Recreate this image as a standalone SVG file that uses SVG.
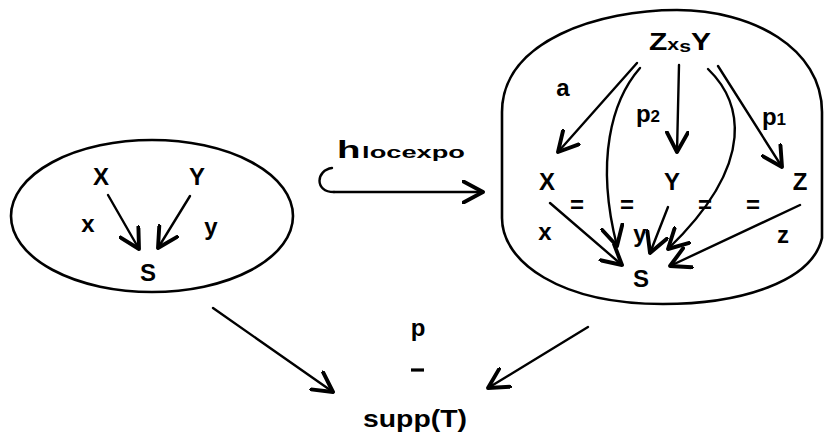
<svg xmlns="http://www.w3.org/2000/svg" width="824" height="437" viewBox="0 0 824 437">
<defs>
<marker id="ah" markerUnits="userSpaceOnUse" markerWidth="24" markerHeight="24" refX="14" refY="8" orient="auto" viewBox="0 0 16 16">
<path d="M1,1 L14,8 L1,15" fill="none" stroke="#000" stroke-width="2.6" stroke-linecap="round" stroke-linejoin="round"/>
</marker>
</defs>
<style>
.t{font-family:"Liberation Sans",Arial,sans-serif;font-weight:bold;font-size:24px;fill:#000;text-anchor:middle}
.s{font-size:17px}
.shape{fill:none;stroke:#000;stroke-width:2.6}
.e{fill:none;stroke:#000;stroke-width:2.4;stroke-linecap:round;marker-end:url(#ah)}
.ln{fill:none;stroke:#000;stroke-width:2.4;stroke-linecap:round}
.dash{fill:none;stroke:#000;stroke-width:3.2}
</style>
<rect width="824" height="437" fill="#fff"/>
<g id="left">
<ellipse class="shape" cx="152" cy="216" rx="141" ry="76"/>
<text class="t" x="101" y="185">X</text>
<text class="t" x="197" y="185">Y</text>
<text class="t" x="88" y="232">x</text>
<text class="t" x="211" y="235">y</text>
<text class="t" x="148" y="281">S</text>
</g>
<g id="right">
<path class="shape" d="M502,112 C502,40 600,10 677,10 C752,10 822,48 822,112 L822,238 C812,282 740,304 663,304 C560,304 502,262 502,218 Z"/>
<text class="t" x="680" y="50" textLength="62" lengthAdjust="spacingAndGlyphs"><tspan>Z</tspan><tspan class="s">x</tspan><tspan class="s" dy="2">s</tspan><tspan dy="-2">Y</tspan></text>
<text class="t" x="563" y="96">a</text>
<text class="t" x="648" y="122"><tspan>p</tspan><tspan class="s">2</tspan></text>
<text class="t" x="774" y="125"><tspan>p</tspan><tspan class="s">1</tspan></text>
<text class="t" x="547" y="190">X</text>
<text class="t" x="672" y="190">Y</text>
<text class="t" x="800" y="190">Z</text>
<text class="t" x="577" y="213">=</text>
<text class="t" x="627" y="213">=</text>
<text class="t" x="705" y="213">=</text>
<text class="t" x="753" y="213">=</text>
<text class="t" x="545" y="240">x</text>
<text class="t" x="640" y="242">y</text>
<text class="t" x="783" y="243">z</text>
<text class="t" x="641" y="287">S</text>
</g>
<g id="bottom">
<text class="t" x="418" y="336">p</text>
<path class="dash" d="M411,370 L424,370"/>
<text class="t" x="415" y="427" textLength="104" lengthAdjust="spacingAndGlyphs">supp(T)</text>
</g>
<g id="hookLabel">
<text class="t" x="401" y="158" textLength="128" lengthAdjust="spacingAndGlyphs"><tspan>h</tspan><tspan class="s" dx="1">locexpo</tspan></text>
</g>
<g id="connectors">
<path class="ln" d="M332,168 C316,170 314,192 334,192"/>
<path class="e" d="M334,192 L483,192"/>
<path class="e" d="M108,195 L139,249"/>
<path class="e" d="M190,196 L158,248"/>
<path class="e" d="M637,63 L558,152"/>
<path class="e" d="M640,68 C612,100 595,160 617,246"/>
<path class="e" d="M679,65 L677,152"/>
<path class="e" d="M708,69 C740,100 760,160 668,249"/>
<path class="e" d="M718,66 L782,167"/>
<path class="e" d="M550,203 L622,265"/>
<path class="e" d="M668,207 L650,253"/>
<path class="e" d="M800,205 L670,266"/>
<path class="e" d="M213,308 L333,392"/>
<path class="e" d="M588,327 L488,388"/>
</g>
</svg>
